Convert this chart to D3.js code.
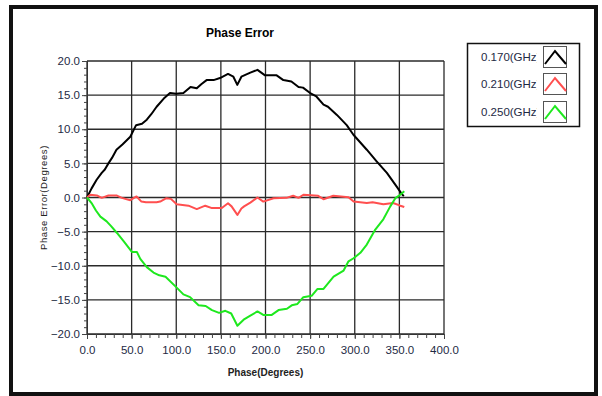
<!DOCTYPE html>
<html>
<head>
<meta charset="utf-8">
<script src="https://cdn.jsdelivr.net/npm/d3@7"></script>
<style>
  body { margin: 0; background: #fff; }
  text { font-family: "Liberation Sans", Arial, sans-serif; }
</style>
</head>
<body>
<div id="chart"></div>
<script>
// series: [phase (deg), phase error (deg)]
var freqLabels = ["0.170(GHz)", "0.210(GHz)", "0.250(GHz)"];
var lineColors = ["#000000", "#ff4f4f", "#1ee81e"];

var err170 = [[0,0],[5,1.3],[10.8,2.6],[16.5,3.6],[20,4.1],[24,5.0],[28,5.8],[33,7.0],[40,7.8],[48.5,8.9],[55,10.6],[61.6,10.8],[67,11.4],[72,12.2],[78,13.3],[86,14.5],[93,15.3],[100,15.2],[108,15.3],[116,16.2],[123,16.0],[128,16.6],[134,17.2],[141.8,17.2],[149,17.5],[158,18.1],[164,17.7],[168.4,16.5],[173,17.7],[183,18.3],[191,18.7],[199.5,17.9],[212.5,17.9],[220,17.2],[229,17.0],[237,16.2],[242,16.1],[250,15.3],[257,14.8],[265,13.6],[270,13.3],[280,12.1],[291,10.6],[298.5,9.2],[306,8.1],[313.5,7.0],[324.5,5.3],[336,3.6],[347,1.6],[352.8,0.5],[355,0.2]];

var err210 = [[0,0],[3.7,0.4],[11,0.3],[16.5,-0.05],[24,0.3],[33,0.3],[39,-0.05],[48.5,-0.4],[55.5,0.15],[61,-0.6],[66,-0.7],[78,-0.7],[82,-0.6],[89,-0.1],[94,-0.2],[100.5,-1.0],[113.7,-1.2],[123,-1.7],[132.5,-1.2],[140,-1.55],[151,-1.55],[158,-0.85],[162,-1.3],[168.5,-2.55],[173,-1.6],[176,-1.3],[183,-0.75],[191,0.0],[197.5,-0.6],[209,-0.1],[223.5,-0.05],[231,0.25],[237,-0.05],[242.5,0.4],[259,0.25],[265,-0.25],[276,0.25],[293,0.05],[298.7,-0.6],[313.5,-0.8],[320,-0.7],[332,-1.0],[343,-0.8],[351,-1.2],[355.5,-1.4]];

var err250 = [[0,0],[5.6,-0.9],[10,-1.9],[15,-2.8],[22,-3.5],[27,-4.2],[33.6,-5.2],[41,-6.4],[50.5,-8.0],[56,-8.0],[59.7,-9.0],[67,-10.2],[74.5,-11.0],[81,-11.4],[88,-11.6],[100.5,-13.2],[108,-14.2],[115.5,-14.6],[125,-15.8],[133,-15.9],[140,-16.5],[148,-16.9],[155,-16.6],[161.6,-17.0],[168.5,-18.8],[175.5,-17.9],[183,-17.3],[191,-16.7],[197.5,-17.2],[207,-17.2],[214.6,-16.5],[224,-16.3],[229.4,-15.8],[235.8,-15.6],[242.4,-14.6],[251.7,-14.4],[258.3,-13.4],[265,-13.4],[276.3,-11.6],[287.5,-10.7],[293,-9.35],[298.7,-8.9],[306.3,-8.1],[313.5,-6.9],[323,-4.7],[332,-3.2],[339.8,-1.3],[345.5,-0.1],[351,0.4],[355.5,0.9]];

var xTicks = [0, 50, 100, 150, 200, 250, 300, 350, 400];
var yTicks = [-20, -15, -10, -5, 0, 5, 10, 15, 20];

var width = 602, height = 396;
var svg = d3.select("#chart").append("svg")
  .attr("width", width)
  .attr("height", height);

// outer frame
svg.append("rect")
  .attr("x", 11).attr("y", 7)
  .attr("width", 585).attr("height", 387)
  .attr("fill", "none")
  .attr("stroke", "#111")
  .attr("stroke-width", 4);

var pLeft = 87, pTop = 61, pRight = 444, pBottom = 334;

var x = d3.scaleLinear().domain([0, 400]).range([pLeft, pRight]);
var y = d3.scaleLinear().domain([-20, 20]).range([pBottom, pTop]);

svg.append("text")
  .attr("x", 240).attr("y", 37)
  .attr("text-anchor", "middle")
  .attr("font-size", 12).attr("font-weight", "bold")
  .text("Phase Error");

// grid
var grid = svg.append("g");
grid.selectAll("line.v").data(xTicks).enter().append("line")
  .attr("x1", d => x(d)).attr("x2", d => x(d))
  .attr("y1", pTop).attr("y2", pBottom)
  .attr("stroke", "#2a2a2a").attr("stroke-width", 1.3);
grid.selectAll("line.h").data(yTicks).enter().append("line")
  .attr("x1", pLeft).attr("x2", pRight)
  .attr("y1", d => y(d)).attr("y2", d => y(d))
  .attr("stroke", "#2a2a2a").attr("stroke-width", 1.3);

// axes
svg.append("g")
  .attr("transform", "translate(0," + pBottom + ")")
  .call(d3.axisBottom(x).tickValues(xTicks).tickFormat(d3.format(".1f")).tickSize(5).tickPadding(7));
svg.append("g")
  .attr("transform", "translate(0," + pBottom + ")")
  .call(d3.axisBottom(x).tickValues(d3.range(0, 401, 10)).tickFormat("").tickSize(4))
  .select(".domain").remove();

svg.append("g")
  .attr("transform", "translate(" + pLeft + ",0)")
  .call(d3.axisLeft(y).tickValues(yTicks).tickFormat(d3.format(".1f")).tickSize(5).tickPadding(2));
svg.append("g")
  .attr("transform", "translate(" + pLeft + ",0)")
  .call(d3.axisLeft(y).tickValues(d3.range(-20, 21, 1)).tickFormat("").tickSize(3))
  .select(".domain").remove();

svg.selectAll(".tick text")
  .attr("font-size", 11.5)
  .attr("fill", "#1e2a44");
svg.selectAll(".tick line").attr("stroke", "#444");
svg.selectAll(".domain").attr("stroke", "#333");

svg.append("text")
  .attr("x", (pLeft + pRight) / 2).attr("y", 376)
  .attr("text-anchor", "middle")
  .attr("font-size", 10)
  .attr("font-weight", "bold")
  .attr("fill", "#222")
  .text("Phase(Degrees)");

svg.append("text")
  .attr("transform", "translate(47," + ((pTop + pBottom) / 2) + ") rotate(-90)")
  .attr("text-anchor", "middle")
  .attr("font-size", 9.5)
  .attr("letter-spacing", 0.6)
  .attr("fill", "#222")
  .text("Phase Error(Degrees)");

// curves
var line = d3.line().x(d => x(d[0])).y(d => y(d[1]));
var allSeries = [err170, err210, err250];
svg.append("g").selectAll("path").data(allSeries).enter().append("path")
  .attr("d", line)
  .attr("fill", "none")
  .attr("stroke", (d, i) => lineColors[i])
  .attr("stroke-width", 2)
  .attr("stroke-linejoin", "round");

// legend
var legend = svg.append("g");
legend.append("rect")
  .attr("x", 467.5).attr("y", 43.5)
  .attr("width", 112).attr("height", 83)
  .attr("fill", "#fff").attr("stroke", "#111").attr("stroke-width", 1.5);

svg.append("clipPath").attr("id", "legclip")
  .append("rect").attr("x", 470).attr("y", 44).attr("width", 66.5).attr("height", 82);

var rowY = [46, 73, 101];
var rows = legend.selectAll("g.row").data(freqLabels).enter().append("g");
rows.append("text")
  .attr("clip-path", "url(#legclip)")
  .attr("x", 481).attr("y", (d, i) => rowY[i] + 15)
  .attr("font-size", 11.5)
  .attr("fill", "#1e2a44")
  .text(d => d);
rows.append("rect")
  .attr("x", 543.5).attr("y", (d, i) => rowY[i] + 0.5)
  .attr("width", 23).attr("height", 21)
  .attr("fill", "#fff").attr("stroke", "#555").attr("stroke-width", 1);
rows.append("path")
  .attr("d", (d, i) => "M545," + (rowY[i] + 18) + "L555," + (rowY[i] + 5) + "L566," + (rowY[i] + 18))
  .attr("fill", "none")
  .attr("stroke", (d, i) => lineColors[i])
  .attr("stroke-width", 2);
</script>
</body>
</html>
